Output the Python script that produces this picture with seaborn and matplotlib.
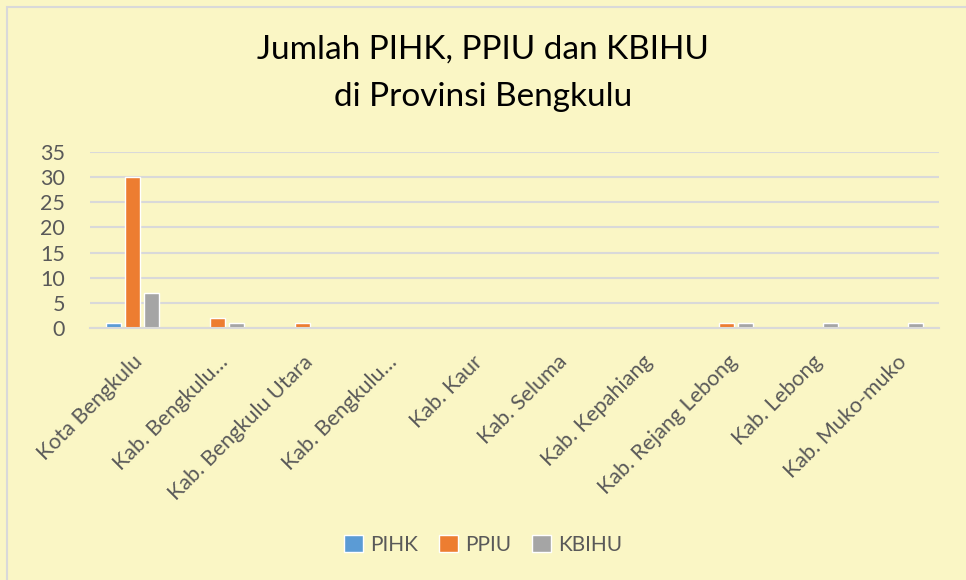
import matplotlib
matplotlib.use("Agg")
import matplotlib.pyplot as plt
import seaborn as sns
import pandas as pd
from matplotlib.patches import Rectangle

# data
kabupaten = ["Kota Bengkulu", "Kab. Bengkulu…", "Kab. Bengkulu Utara", "Kab. Bengkulu…",
             "Kab. Kaur", "Kab. Seluma", "Kab. Kepahiang", "Kab. Rejang Lebong",
             "Kab. Lebong", "Kab. Muko-muko"]
pihk = [1, 0, 0, 0, 0, 0, 0, 0, 0, 0]
ppiu = [30, 2, 1, 0, 0, 0, 0, 1, 0, 0]
kbihu = [7, 1, 0, 0, 0, 0, 0, 1, 1, 1]
series = ["PIHK", "PPIU", "KBIHU"]
warna = ["#5B9BD5", "#ED7D31", "#A5A5A5"]

bg = "#FAF6C5"
teks = "#595959"

sns.set_theme(style="white")
plt.rcParams['font.family'] = ['Lato', 'DejaVu Sans']

# long format, unique id per position so the two truncated labels stay separate
rows = []
for i, nama in enumerate(kabupaten):
    for s, vals in zip(series, [pihk, ppiu, kbihu]):
        rows.append({"pos": i, "seri": s, "jumlah": vals[i]})
df = pd.DataFrame(rows)

fig = plt.figure(figsize=(9.66, 5.8), dpi=100, facecolor=bg)
ax = fig.add_axes([0.0932, 0.4345, 0.972 - 0.0932, 0.738 - 0.4345])
ax.set_facecolor(bg)

# outer chart border (only left/top visible in the crop)
fig.patches.append(Rectangle((7 / 966, -0.05), 1.1, 1 - 7 / 580 + 0.05,
                             transform=fig.transFigure, fill=False,
                             edgecolor="#D9D9D9", linewidth=1.5))

sns.barplot(data=df, x="pos", y="jumlah", hue="seri", hue_order=series,
            palette=warna, width=0.66, gap=0.2, ax=ax, legend=True,
            saturation=1)

ax.set_ylim(0, 35)
ax.set_xlim(-0.5, len(kabupaten) - 0.5)
ax.set_yticks(range(0, 36, 5))
ax.yaxis.grid(True, color="#D9D9D9", linewidth=1.5)
ax.set_axisbelow(True)
for side in ["top", "right", "left"]:
    ax.spines[side].set_visible(False)
ax.spines["bottom"].set_color("#D9D9D9")
ax.spines["bottom"].set_linewidth(1.5)

ax.set_xlabel("")
ax.set_ylabel("")
ax.set_xticks(range(len(kabupaten)))
ax.set_xticklabels(kabupaten, rotation=45, ha="right", rotation_mode="anchor",
                   fontsize=15.5, color=teks)
ax.tick_params(axis="x", length=0, pad=17)
ax.tick_params(axis="y", length=0, labelsize=15.5, labelcolor=teks, pad=18)

fig.text(0.5, 0.914, "Jumlah PIHK, PPIU dan KBIHU",
         ha="center", va="center", fontsize=24, color="black")
fig.text(0.5, 0.833, "di Provinsi Bengkulu",
         ha="center", va="center", fontsize=24, color="black")

ax.legend(loc="center", bbox_to_anchor=(0.5, 1 - 545 / 580), bbox_transform=fig.transFigure,
          ncol=3, frameon=False, fontsize=15, labelcolor=teks,
          handlelength=0.9, handleheight=0.9, handletextpad=0.35, columnspacing=1.0)

fig.savefig("out.png", dpi=100, facecolor=bg)
